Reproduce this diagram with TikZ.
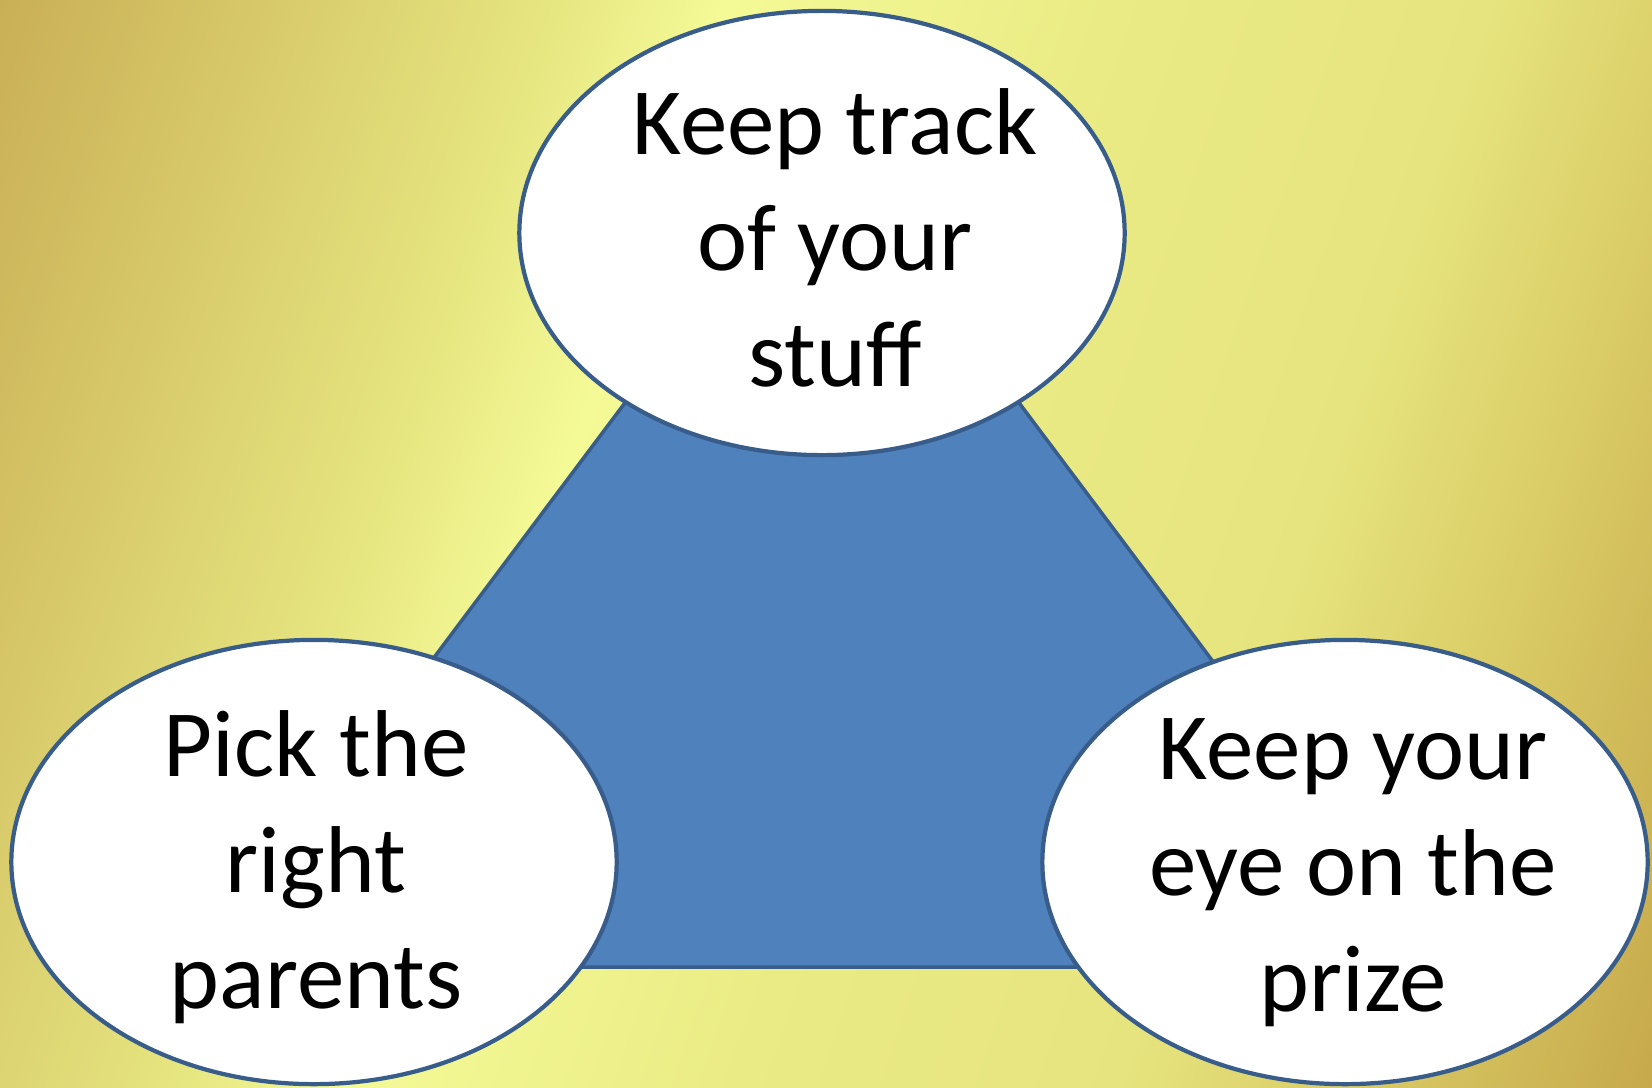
\documentclass[tikz,border=0pt]{standalone}
\usepackage{fontspec}
\setmainfont{Carlito}
\usetikzlibrary{shapes.geometric}
\definecolor{goldA}{HTML}{C9AE55}
\definecolor{goldB}{HTML}{E5E47F}
\definecolor{goldC}{HTML}{F4FA96}
\definecolor{goldD}{HTML}{EAEB85}
\definecolor{goldE}{HTML}{E6E47E}
\definecolor{goldF}{HTML}{DCD06A}
\definecolor{goldG}{HTML}{C6A84A}
\definecolor{triblue}{HTML}{4F81BD}
\definecolor{edgeblue}{HTML}{385D8A}
\pgfdeclarehorizontalshading{goldbg}{100bp}{color(0bp)=(goldA); color(18bp)=(goldA); color(35bp)=(goldB); color(41bp)=(goldC); color(53bp)=(goldD); color(65bp)=(goldE); color(71bp)=(goldF); color(82bp)=(goldG); color(100bp)=(goldG)}
\begin{document}
\begin{tikzpicture}[x=0.01cm, y=-0.01cm,
    blob/.style={ellipse, draw=edgeblue, line width=1.2pt, fill=white, minimum width=6.05cm, minimum height=4.44cm, inner sep=0pt},
    lbl/.style={align=center, font=\fontsize{27}{33}\selectfont}]
    \useasboundingbox (0,0) rectangle (1652,1087);
    \shade[shading=goldbg, shading angle=-19] (0,0) rectangle (1652,1087);
    % triangle behind the ovals
    \coordinate (apex) at (822,140);
    \coordinate (bl) at (202,967);
    \coordinate (br) at (1442,967);
    \draw [fill=triblue, draw=edgeblue, line width=1pt] (apex)--(bl)--(br)--cycle;
    \node[blob] (stuff) at (822,233) {};
    \node[blob] (parents) at (314,862) {};
    \node[blob] (prize) at (1345,862) {};
    \node[lbl] (stufftxt) at (835,238) {Keep track\\of your\\stuff};
    \node[lbl] (parentstxt) at (316,867) {Pick the\\right\\parents};
    \node[lbl] (prizetxt) at (1353,873) {Keep your\\eye on the\\prize};
\end{tikzpicture}
\end{document}
